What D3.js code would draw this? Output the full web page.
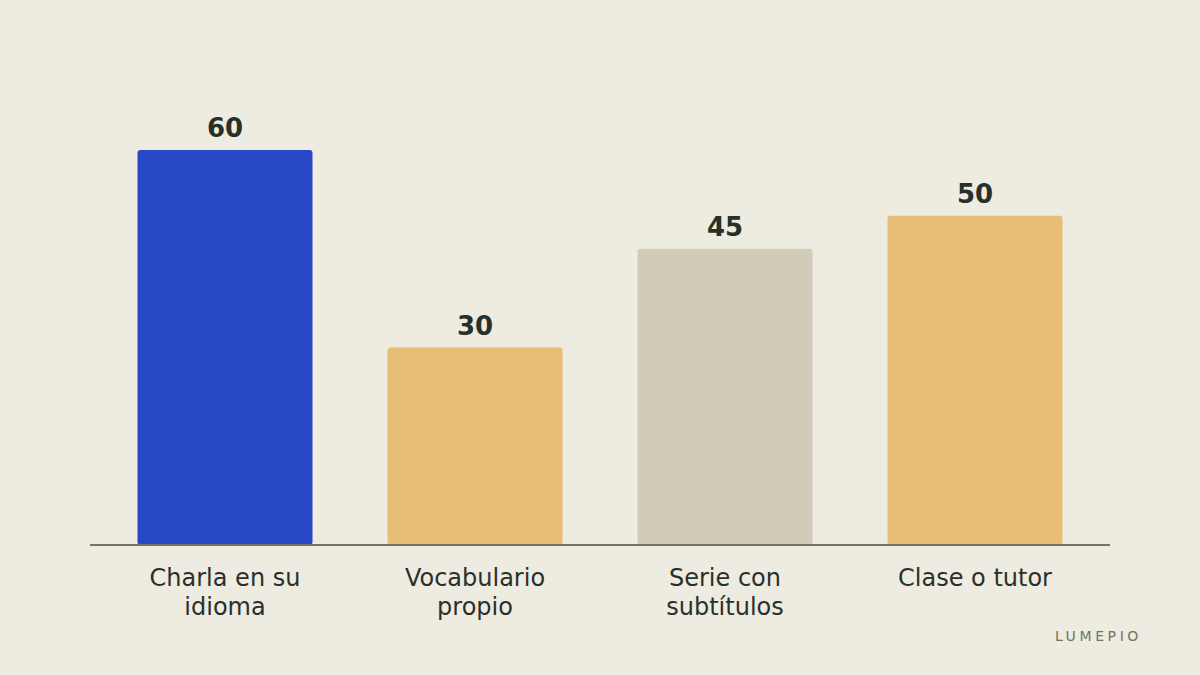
<!DOCTYPE html>
<meta charset="UTF-8">
<style>
    body { margin: 0; background: #eeebe0; }
    .value { font: bold 26px "DejaVu Sans", sans-serif; fill: #27302a; }
    .cat { font: 24px "DejaVu Sans", sans-serif; fill: #2a302b; }
    .brand { font: 14px "DejaVu Sans", sans-serif; fill: #6f7568; letter-spacing: 3.6px; }
</style>
<body>
<script src="https://d3js.org/d3.v7.min.js"></script>
<script>

// data
var categories = [["Charla en su", "idioma"], ["Vocabulario", "propio"], ["Serie con", "subtítulos"], ["Clase o tutor"]];
var values = [60, 30, 45, 50];
var colors = ["#2749c6", "#e8bd78", "#d2cbb8", "#e8bd78"];

var width = 1200, height = 675;

var svg = d3.select("body").append("svg")
    .attr("width", width)
    .attr("height", height);

svg.append("rect")
    .attr("width", width).attr("height", height)
    .attr("fill", "#eeebe0");

var keys = categories.map(function(c, i) { return i; });

var x = d3.scaleBand()
    .domain(keys)
    .range([100, 1100])
    .paddingInner(0.3)
    .paddingOuter(0.15);

var y = d3.scaleLinear()
    .domain([0, 60])
    .range([545, 150]);

// bars
svg.selectAll("rect.bar")
    .data(values)
  .enter().append("rect")
    .attr("class", "bar")
    .attr("x", function(d, i) { return x(i); })
    .attr("y", function(d) { return y(d); })
    .attr("width", x.bandwidth())
    .attr("height", function(d) { return y(0) - y(d); })
    .attr("rx", 3)
    .attr("fill", function(d, i) { return colors[i]; });

// value labels
svg.selectAll("text.value")
    .data(values)
  .enter().append("text")
    .attr("class", "value")
    .attr("text-anchor", "middle")
    .attr("x", function(d, i) { return x(i) + x.bandwidth() / 2; })
    .attr("y", function(d) { return y(d) - 13; })
    .text(function(d) { return d; });

// baseline
svg.append("line")
    .attr("x1", 90).attr("x2", 1110)
    .attr("y1", y(0)).attr("y2", y(0))
    .attr("stroke", "#70766a")
    .attr("stroke-width", 2);

// category labels
var cat = svg.selectAll("text.cat")
    .data(categories)
  .enter().append("text")
    .attr("class", "cat")
    .attr("text-anchor", "middle")
    .attr("transform", function(d, i) {
        return "translate(" + (x(i) + x.bandwidth() / 2) + "," + (y(0) + 41) + ")";
    });

cat.selectAll("tspan")
    .data(function(d) { return d; })
  .enter().append("tspan")
    .attr("x", 0)
    .attr("dy", function(d, j) { return j === 0 ? 0 : 29; })
    .text(function(d) { return d; });

svg.append("text")
    .attr("class", "brand")
    .attr("text-anchor", "end")
    .attr("x", 1142)
    .attr("y", 641)
    .text("LUMEPIO");

</script>
</body>
